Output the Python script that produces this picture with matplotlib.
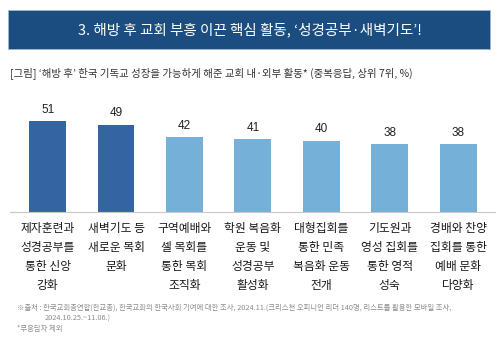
import numpy as np
import matplotlib.pyplot as plt
from matplotlib.patches import Rectangle

plt.rcParams['font.family'] = ['Noto Sans CJK KR', 'DejaVu Sans']

categories = ['제자훈련과\n성경공부를\n통한 신앙\n강화',
              '새벽기도 등\n새로운 목회\n문화',
              '구역예배와\n셀 목회를\n통한 목회\n조직화',
              '학원 복음화\n운동 및\n성경공부\n활성화',
              '대형집회를\n통한 민족\n복음화 운동\n전개',
              '기도원과\n영성 집회를\n통한 영적\n성숙',
              '경배와 찬양\n집회를 통한\n예배 문화\n다양화']
values = [51, 49, 42, 41, 40, 38, 38]
highlight = [True, True, False, False, False, False, False]

title = '3. 해방 후 교회 부흥 이끈 핵심 활동, ‘성경공부·새벽기도’!'
subtitle = '[그림] ‘해방 후’ 한국 기독교 성장을 가능하게 해준 교회 내·외부 활동* (중복응답, 상위 7위, %)'
source1 = '※출처 : 한국교회총연합(한교총), 한국교회의 한국사회 기여에 대한 조사, 2024.11.(크리스천 오피니언 리더 140명, 리스트를 활용한 모바일 조사,'
source2 = '2024.10.25.~11.06.)'
note = '*무응답자 제외'

W, H = 500, 346
fig = plt.figure(figsize=(W / 100, H / 100), dpi=100)
fig.patch.set_facecolor('white')

# title bar
fig.patches.append(Rectangle((8 / W, 1 - 49 / H), 482 / W, 39 / H,
                             transform=fig.transFigure, facecolor='#1b4d80',
                             edgecolor='#9fb6cf', linewidth=0.6))
fig.text(0.5, 1 - 29.5 / H, title, color='white', fontsize=10.5,
         ha='center', va='center')
fig.text(10 / W, 1 - 73 / H, subtitle, color='#333333', fontsize=7.5,
         ha='left', va='center')

ax = fig.add_axes([10 / W, 1 - 212 / H, 485 / W, 112 / H])
x = np.arange(len(values))
colors = ['#3564a3' if h else '#74b0d7' for h in highlight]
ax.bar(x, values, width=0.54, color=colors)
for xi, v in zip(x, values):
    ax.text(xi, v + 3, str(v), ha='center', va='bottom', fontsize=8.5,
            color='#222222', family=['Liberation Sans', 'DejaVu Sans'])
ax.set_xlim(-0.55, 6.54)
ax.set_ylim(0, 62.8)
ax.set_yticks([])
ax.set_xticks(x)
ax.set_xticklabels(categories, fontsize=8.5, color='#1a1a1a', linespacing=1.62,
                   va='top')
ax.tick_params(axis='x', length=0, pad=7)
for s in ['top', 'left', 'right']:
    ax.spines[s].set_visible(False)
ax.spines['bottom'].set_color('#c8c8c8')
ax.spines['bottom'].set_linewidth(0.8)

fig.text(17 / W, 1 - 308 / H, source1, color='#8c8c8c', fontsize=5.3,
         ha='left', va='center')
fig.text(45 / W, 1 - 319 / H, source2, color='#8c8c8c', fontsize=5.3,
         ha='left', va='center')
fig.text(17 / W, 1 - 329 / H, note, color='#8c8c8c', fontsize=5.3,
         ha='left', va='center')

fig.savefig('out.png', dpi=100)
